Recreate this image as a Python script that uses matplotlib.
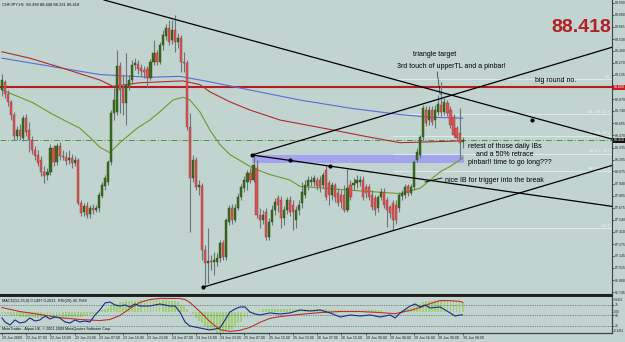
import numpy as np
import matplotlib
matplotlib.use("Agg")
from matplotlib import pyplot as plt
import matplotlib.transforms as mtransforms

# ---- CHFJPY H1 candles (19 Jun 2009 23:00 .. 30 Jun 2009 08:00) ----
opens = [
    88.97, 89.06, 88.93, 88.84, 88.70, 88.46, 88.53, 88.44, 88.66, 88.53,
    88.42, 88.31, 88.25, 88.20, 88.07, 88.04, 88.07, 88.33, 88.18, 88.35,
    88.24, 88.23, 88.20, 88.22, 88.17, 88.20, 87.73, 87.63, 87.69, 87.61,
    87.67, 87.65, 87.67, 87.80, 87.91, 87.96, 88.18, 88.72, 88.73, 89.23,
    88.99, 88.83, 89.01, 89.08, 89.25, 89.26, 89.21, 89.19, 89.20, 89.10,
    89.28, 89.38, 89.28, 89.47, 89.56, 89.65, 89.52, 89.63, 89.50, 89.54,
    89.28, 89.27, 88.56, 88.00, 88.20, 87.90, 87.91, 87.21, 87.07, 87.09,
    87.08, 87.08, 87.12, 87.29, 87.13, 87.52, 87.67, 87.54, 87.67, 87.79,
    87.89, 87.96, 88.06, 87.98, 88.11, 87.60, 87.54, 87.63, 87.35, 87.52,
    87.65, 87.78, 87.76, 87.56, 87.65, 87.76, 87.71, 87.54, 87.65, 87.73,
    87.82, 87.91, 87.96, 87.96, 87.98, 87.98, 87.93, 88.09, 87.95, 87.82,
    87.93, 87.84, 87.82, 87.82, 87.65, 87.93, 87.93, 87.95, 87.96, 87.98,
    87.90, 87.90, 87.82, 87.78, 87.67, 87.79, 87.85, 87.76, 87.68, 87.73,
    87.71, 87.67, 87.80, 87.82, 87.91, 87.84, 87.90, 88.20, 88.25, 88.45,
    88.75, 88.64, 88.75, 88.64, 88.73, 88.80, 88.73, 88.83, 88.75, 88.67,
    88.55, 88.50, 88.398]
highs = [
    89.15, 89.08, 88.97, 88.86, 88.73, 88.57, 88.60, 88.70, 88.71, 88.62,
    88.46, 88.35, 88.31, 88.24, 88.13, 88.11, 88.38, 88.37, 88.39, 88.40,
    88.31, 88.29, 88.31, 88.27, 88.24, 88.22, 87.76, 87.73, 87.74, 87.71,
    87.72, 87.71, 87.85, 87.96, 88.04, 88.20, 88.75, 88.99, 89.41, 89.28,
    89.14, 89.38, 89.14, 89.30, 89.32, 89.30, 89.26, 89.23, 89.23, 89.31,
    89.52, 89.41, 89.50, 89.63, 89.70, 89.74, 89.74, 89.80, 89.60, 89.58,
    89.39, 89.30, 88.72, 88.25, 88.23, 87.98, 87.95, 87.26, 87.45, 87.16,
    87.19, 87.18, 87.32, 87.32, 87.56, 87.71, 87.72, 87.72, 87.84, 87.94,
    88.02, 88.09, 88.11, 88.28, 88.20, 87.67, 87.65, 87.67, 87.56, 87.71,
    87.78, 87.82, 87.80, 87.69, 87.79, 87.80, 87.76, 87.69, 87.76, 87.96,
    87.98, 88.02, 88.02, 88.04, 88.01, 88.02, 88.07, 88.13, 87.98, 87.96,
    87.95, 87.89, 87.87, 87.93, 88.10, 87.98, 88.00, 88.04, 88.02, 88.02,
    87.94, 87.94, 87.87, 87.82, 87.82, 87.89, 87.89, 87.79, 87.71, 87.76,
    87.76, 87.85, 87.87, 87.94, 87.94, 87.94, 88.20, 88.33, 88.48, 88.80,
    88.79, 88.79, 88.79, 88.80, 88.92, 89.06, 88.88, 88.86, 88.79, 88.71,
    88.57, 88.77, 88.448]
lows = [
    88.90, 88.88, 88.79, 88.64, 88.42, 88.42, 88.42, 88.41, 88.46, 88.29,
    88.27, 88.20, 88.13, 88.02, 87.95, 87.98, 88.04, 88.13, 88.15, 88.20,
    88.20, 88.15, 88.16, 88.11, 88.13, 87.71, 87.58, 87.58, 87.56, 87.56,
    87.61, 87.63, 87.63, 87.78, 87.87, 87.93, 88.15, 88.64, 88.70, 88.72,
    88.70, 88.59, 88.97, 89.04, 89.19, 89.15, 89.12, 89.10, 89.00, 89.08,
    89.25, 89.25, 89.26, 89.41, 89.52, 89.47, 89.48, 89.39, 89.43, 89.17,
    89.17, 88.53, 87.41, 87.96, 87.87, 87.82, 87.10, 86.80, 86.85, 86.99,
    86.94, 87.03, 87.08, 87.10, 87.10, 87.49, 87.50, 87.52, 87.65, 87.76,
    87.85, 87.87, 87.95, 87.96, 87.56, 87.45, 87.50, 87.32, 87.32, 87.49,
    87.60, 87.63, 87.45, 87.49, 87.61, 87.58, 87.43, 87.45, 87.60, 87.67,
    87.78, 87.87, 87.91, 87.91, 87.87, 87.85, 87.89, 87.76, 87.71, 87.76,
    87.74, 87.69, 87.67, 87.63, 87.63, 87.76, 87.87, 87.89, 87.91, 87.76,
    87.78, 87.76, 87.65, 87.60, 87.63, 87.76, 87.67, 87.46, 87.56, 87.43,
    87.50, 87.63, 87.76, 87.78, 87.80, 87.82, 87.87, 88.18, 88.22, 88.42,
    88.57, 88.59, 88.59, 88.55, 88.70, 88.68, 88.70, 88.68, 88.55, 88.45,
    88.42, 88.21, 88.331]
closes = [
    89.08, 88.93, 88.84, 88.70, 88.46, 88.53, 88.46, 88.66, 88.51, 88.42,
    88.31, 88.24, 88.17, 88.07, 88.02, 88.07, 88.33, 88.18, 88.35, 88.24,
    88.23, 88.19, 88.22, 88.17, 88.20, 87.73, 87.62, 87.69, 87.60, 87.67,
    87.65, 87.67, 87.82, 87.93, 88.00, 88.18, 88.72, 88.86, 89.23, 88.97,
    88.83, 89.03, 89.08, 89.25, 89.27, 89.20, 89.18, 89.17, 89.10, 89.28,
    89.38, 89.28, 89.47, 89.58, 89.65, 89.50, 89.63, 89.50, 89.54, 89.28,
    89.27, 88.56, 88.00, 88.20, 87.90, 87.93, 87.21, 87.07, 87.09, 87.08,
    87.10, 87.12, 87.29, 87.13, 87.54, 87.67, 87.54, 87.67, 87.79, 87.90,
    87.98, 88.06, 87.98, 88.15, 87.60, 87.54, 87.60, 87.35, 87.52, 87.65,
    87.74, 87.71, 87.56, 87.65, 87.76, 87.63, 87.63, 87.65, 87.71, 87.85,
    87.93, 87.98, 87.98, 88.00, 87.91, 87.90, 88.04, 87.79, 87.82, 87.93,
    87.79, 87.73, 87.74, 87.65, 87.89, 87.79, 87.95, 87.98, 87.98, 87.79,
    87.84, 87.79, 87.68, 87.65, 87.79, 87.85, 87.71, 87.65, 87.62, 87.54,
    87.54, 87.82, 87.84, 87.90, 87.84, 87.90, 88.18, 88.29, 88.45, 88.77,
    88.61, 88.75, 88.62, 88.75, 88.82, 88.73, 88.84, 88.72, 88.59, 88.48,
    88.44, 88.39, 88.418]

# moving averages (candle index, price)
blue_idx = [0, 32.3, 48.8, 58.7, 68.6, 81.8, 98.3, 114.9, 131.4, 141.3, 152]
blue_val = [89.32, 89.14, 89.11, 89.12, 89.06, 88.97, 88.86, 88.77, 88.70, 88.67, 88.66]
red_idx = [0, 9.2, 19.1, 32.3, 36.6, 45.5, 59.7, 65.3, 68.6, 75.2, 81.8, 91.7,
           109.2, 121.5, 131.4, 141.3, 152]
red_val = [89.39, 89.32, 89.22, 89.08, 89.01, 89.05, 89.07, 89.03, 88.95, 88.84,
           88.75, 88.64, 88.53, 88.45, 88.39, 88.40, 88.41]
green_idx = [0, 5.9, 10.2, 15.8, 21.5, 25.7, 29.0, 32.3, 35.6, 38.9, 44.6, 48.8,
             52.1, 56.4, 59.7, 62.0, 65.3, 68.6, 71.9, 75.2, 82.8, 88.4, 95.0,
             98.3, 113.9, 131.4, 138.0, 144.6, 147.9, 152]
green_val = [88.97, 88.89, 88.83, 88.72, 88.62, 88.55, 88.45, 88.34, 88.28, 88.39,
             88.55, 88.64, 88.73, 88.86, 88.89, 88.86, 88.73, 88.53, 88.37, 88.26,
             88.11, 88.04, 87.98, 87.91, 87.87, 87.83, 87.89, 88.07, 88.13, 88.22]

# drawn objects (candle index, price)
trend_lines = [
    ((33.7, 89.96), (201.3, 88.43)),
    ((66.3, 86.80), (201.3, 88.14)),
    ((82.5, 88.255), (201.3, 89.44)),
    ((82.5, 88.255), (201.3, 87.69)),
]
trend_dots_idx = [66.3, 82.5, 95.0, 108.2, 174.9]
trend_dots_val = [86.80, 88.255, 88.20, 88.134, 88.64]
box_idx = [82.5, 152.3]
box_val = [88.167, 88.255]
fib_high = 89.091
fib_low = 87.452
fib_start = 129
fib_levels = [0.0, 23.6, 38.2, 50.0, 61.8, 100.0]
round_no = 89.00
last_price = 88.418

# indicator window
macd_hist = [
    -0.06, -0.08, -0.08, -0.11, -0.11, -0.11, -0.14, -0.14, -0.14, -0.14,
    -0.14, -0.17, -0.17, -0.17, -0.17, -0.17, -0.17, -0.17, -0.17, -0.17,
    -0.14, -0.14, -0.14, -0.14, -0.14, -0.14, -0.14, -0.11, -0.11, -0.08,
    -0.06, -0.03, 0.00, 0.03, 0.08, 0.11, 0.17, 0.19, 0.22, 0.25,
    0.25, 0.28, 0.28, 0.30, 0.30, 0.30, 0.33, 0.33, 0.33, 0.33,
    0.33, 0.33, 0.33, 0.33, 0.33, 0.30, 0.30, 0.28, 0.25, 0.19,
    0.14, 0.08, 0.00, -0.08, -0.17, -0.25, -0.33, -0.41, -0.47, -0.52,
    -0.55, -0.58, -0.58, -0.58, -0.55, -0.52, -0.47, -0.41, -0.33, -0.28,
    -0.19, -0.14, -0.08, -0.03, 0.00, 0.03, 0.06, 0.06, 0.08, 0.08,
    0.08, 0.08, 0.08, 0.08, 0.08, 0.08, 0.08, 0.08, 0.08, 0.08,
    0.08, 0.08, 0.08, 0.06, 0.06, 0.06, 0.06, 0.06, 0.03, 0.03,
    0.03, 0.03, 0.03, 0.03, 0.03, 0.03, 0.03, 0.03, 0.03, 0.03,
    0.03, 0.03, 0.03, 0.03, 0.03, 0.03, 0.00, 0.00, 0.00, 0.00,
    0.00, 0.00, 0.03, 0.06, 0.08, 0.11, 0.14, 0.19, 0.22, 0.25,
    0.28, 0.30, 0.30, 0.33, 0.33, 0.33, 0.33, 0.33, 0.30, 0.30,
    0.28, 0.28, 0.25]
sig_idx = [0, 5.9, 12.5, 19.1, 25.7, 32.3, 35.6, 38.9, 42.2, 45.5,
           48.8, 52.1, 55.4, 58.7, 60.4, 62.0, 65.3, 68.6, 71.9, 75.2,
           78.5, 81.8, 85.1, 88.4, 91.7, 98.3, 105.0, 111.6, 118.2, 124.8,
           129.7, 131.4, 134.7, 138.0, 141.3, 144.6, 147.9, 151.2, 152]
sig_val = [0.11, 0.00, -0.08, -0.17, -0.22, -0.25, -0.22, -0.11, 0.08, 0.25,
           0.33, 0.36, 0.36, 0.36, 0.33, 0.25, 0.00, -0.28, -0.50, -0.55,
           -0.52, -0.44, -0.30, -0.19, -0.14, -0.08, -0.03, 0.00, 0.00, -0.03,
           -0.06, -0.03, 0.03, 0.11, 0.22, 0.30, 0.30, 0.28, 0.25]
rsi_idx = [0, 1.0, 2.6, 4.3, 5.9, 7.6, 9.2, 10.9, 12.5, 14.2,
           15.8, 17.5, 19.1, 20.8, 22.4, 24.1, 25.7, 27.4, 29.0, 30.7,
           32.3, 34.0, 35.6, 37.3, 38.9, 40.6, 42.2, 43.9, 45.5, 48.8,
           52.1, 55.4, 57.1, 58.7, 60.4, 62.0, 65.3, 68.6, 70.3, 71.9,
           73.6, 75.2, 76.9, 78.5, 80.2, 81.8, 83.5, 85.1, 88.4, 91.7,
           95.0, 98.3, 101.7, 105.0, 108.3, 111.6, 114.9, 118.2, 121.5, 124.8,
           128.1, 129.7, 131.4, 134.7, 136.3, 138.0, 139.6, 141.3, 144.6, 147.9,
           149.5, 151.2, 152]
rsi_val = [44.0, 34.5, 27.4, 39.3, 32.1, 34.5, 44.0, 36.9, 39.3, 48.8,
           41.7, 46.4, 44.0, 34.5, 32.1, 39.3, 34.5, 36.9, 34.5, 51.2,
           63.1, 79.8, 82.1, 75.0, 72.6, 75.0, 70.2, 77.4, 72.6, 72.6,
           77.4, 72.6, 72.6, 58.3, 34.5, 25.0, 20.2, 15.5, 17.9, 20.2,
           39.3, 58.3, 65.5, 70.2, 70.2, 58.3, 53.6, 51.2, 56.0, 53.6,
           56.0, 63.1, 60.7, 63.1, 56.0, 46.4, 51.2, 48.8, 51.2, 46.4,
           51.2, 44.0, 56.0, 72.6, 77.4, 70.2, 75.0, 67.9, 70.2, 56.0,
           48.8, 51.2, 51.2]

price_ticks = [89.930, 89.800, 89.665, 89.530, 89.400, 89.270, 89.135, 88.870,
               88.740, 88.605, 88.470, 88.335, 88.205, 88.075, 87.940, 87.805,
               87.675, 87.540, 87.410, 87.275, 87.145, 87.015, 86.880, 86.745]
time_labels = ["19 Jun 2009", "22 Jun 07:00", "22 Jun 15:00", "22 Jun 23:00",
               "23 Jun 07:00", "23 Jun 15:00", "23 Jun 23:00", "24 Jun 07:00",
               "24 Jun 15:00", "24 Jun 23:00", "25 Jun 07:00", "25 Jun 15:00",
               "25 Jun 23:00", "26 Jun 07:00", "26 Jun 15:00", "29 Jun 00:00",
               "29 Jun 08:00", "29 Jun 16:00", "30 Jun 00:00", "30 Jun 08:00"]

bg = '#c1d4d0'
plt.rcParams['font.family'] = ['Liberation Sans', 'DejaVu Sans']

fig = plt.figure(figsize=(6.25, 3.42), dpi=100, facecolor=bg)
ax = fig.add_axes([0, 47 / 342, 612 / 625, 295 / 342], facecolor=bg)
ind = fig.add_axes([0, 9 / 342, 612 / 625, 37 / 342], facecolor=bg)

xmin, xmax = -0.66, 201.3
ax.set_xlim(xmin, xmax)
ax.set_ylim(86.715, 89.96)

o = np.array(opens)
h = np.array(highs)
l = np.array(lows)
c = np.array(closes)
idx = np.arange(len(c))
up = c >= o

# fibo levels
rng = fib_high - fib_low
blend = mtransforms.blended_transform_factory(ax.transAxes, ax.transData)
for lev in fib_levels:
    p = fib_high - rng * lev / 100.0
    ax.plot([fib_start, xmax], [p, p], color='#e4ecec', lw=0.6, zorder=1)
    if lev in (0.0, 100.0):
        txt = "%.1f" % lev
    else:
        txt = "%.3f  %.1f" % (p, lev)
    ax.text(0.997, p + 0.005, txt, transform=blend, ha='right', va='bottom',
            fontsize=2.8, color='#eef3f3', zorder=2)

# lavender zone
ax.fill_between(box_idx, box_val[0], box_val[1], color='#a3a3ee', lw=0, zorder=1.5)

ax.axhline(round_no, color='#b81c1c', lw=1.5, zorder=2)
ax.axhline(last_price, color='#4f8f4f', lw=0.7, ls=(0, (6, 2, 1, 2)), zorder=2)

ax.plot(blue_idx, blue_val, color='#5a6bd6', lw=0.8, zorder=2.5)
ax.plot(red_idx, red_val, color='#b02c2c', lw=0.8, zorder=2.5)
ax.plot(green_idx, green_val, color='#6f9a2a', lw=0.8, zorder=2.5)

# candles
ax.vlines(idx, l, h, color='#6c7676', lw=0.8, zorder=3)
bot = np.minimum(o, c)
hgt = np.maximum(np.abs(c - o), 0.008)
ax.bar(idx[up], hgt[up], bottom=bot[up], width=0.7, color='#3c6a1e',
       edgecolor='#2a4c12', lw=0.3, zorder=4)
ax.bar(idx[~up], hgt[~up], bottom=bot[~up], width=0.7, color='#d45656',
       edgecolor='#a83232', lw=0.3, zorder=4)

for (x0, y0), (x1, y1) in trend_lines:
    ax.plot([x0, x1], [y0, y1], color='black', lw=0.9, zorder=5)
ax.plot(trend_dots_idx, trend_dots_val, 'o', color='black', ms=2, zorder=6)

# notes
fs = 5.0
ax.text(142.9, 89.366, "triangle target", fontsize=fs, ha='center', va='center', zorder=7)
ax.text(148.3, 89.234, "3rd touch of upperTL and a pinbar!", fontsize=fs, ha='center',
        va='center', zorder=7)
ax.plot([143.6, 144.6], [89.17, 88.92], color='black', lw=0.4, zorder=7)
ax.text(175.9, 89.069, "big round no.", fontsize=fs, ha='left', va='center', zorder=7)
ax.text(153.8, 88.354, "retest of those daily IBs", fontsize=fs, ha='left', va='center', zorder=7)
ax.text(156.4, 88.255, "and a 50% retrace", fontsize=fs, ha='left', va='center', zorder=7)
ax.text(153.8, 88.167, "pinbar!! time to go long???", fontsize=fs, ha='left', va='center', zorder=7)
ax.text(146.2, 87.98, "nice IB for trigger into the break", fontsize=fs, ha='left',
        va='center', zorder=7)
ax.plot([139.6, 145.2], [87.958, 88.002], color='black', lw=0.6, zorder=7)

fig.text(611 / 625, 1 - 27 / 342, "88.418", color='#b21f24', fontsize=14,
         fontweight='bold', ha='right', va='center')
fig.text(0.004, 1 - 5 / 342, "CHFJPY,H1  88.398 88.448 88.331 88.418", fontsize=3.0,
         color='#111111', va='center')

# price scale
ax.yaxis.tick_right()
ax.set_yticks(price_ticks)
ax.set_yticklabels(["%.3f" % t for t in price_ticks])
ax.tick_params(axis='y', labelsize=2.5, length=1.2, width=0.5, pad=0.6, colors='#222222')
ax.set_xticks([])
ax.text(1.003, round_no, "89.000", transform=blend, fontsize=2.5, color='white',
        va='center', ha='left', bbox=dict(boxstyle='square,pad=0.15', fc='#c81e1e', ec='none'),
        clip_on=False, zorder=8)
ax.text(1.003, last_price, "88.418", transform=blend, fontsize=2.5, color='white',
        va='center', ha='left', bbox=dict(boxstyle='square,pad=0.15', fc='#111111', ec='none'),
        clip_on=False, zorder=8)
for side in ('left', 'top'):
    ax.spines[side].set_visible(False)
ax.spines['right'].set_color('#3a4444')
ax.spines['right'].set_linewidth(0.8)
ax.spines['bottom'].set_color('#202020')
ax.spines['bottom'].set_linewidth(1.5)

# ---- indicator window: MACD histogram + signal, RSI ----
ind.set_xlim(xmin, xmax)
ind.set_ylim(-0.593, 0.428)
ind.bar(idx, macd_hist, width=0.6, color='#a3cf74', lw=0, zorder=2)
ind.plot(sig_idx, sig_val, color='#c23030', lw=0.8, zorder=3)
ind2 = ind.twinx()
ind2.set_xlim(xmin, xmax)
ind2.set_ylim(8.3, 96.4)
for lvl in (25, 50, 75):
    ind2.axhline(lvl, color='#3c4646', lw=0.5, ls=(0, (1, 1.5)), zorder=1)
ind2.plot(rsi_idx, rsi_val, color='#1c2a8a', lw=0.8, zorder=4)

ind.yaxis.tick_right()
ind.set_yticks([0.3452, 0.0, -0.53])
ind.set_yticklabels(["0.3452", "0.00", "-0.3452"])
ind.tick_params(axis='y', labelsize=2.2, length=1.0, width=0.5, pad=0.5, colors='#222222')
ind2.set_yticks([25, 50, 75])
ind2.set_yticklabels(["25", "50", "75"])
ind2.tick_params(axis='y', labelsize=2.4, length=1.2, width=0.5, pad=0.6, colors='#222222')

ind.set_xticks(np.arange(0, len(c), 8))
ind.set_xticklabels(time_labels)
for lab in ind.get_xticklabels():
    lab.set_ha('left')
ind.tick_params(axis='x', labelsize=2.6, length=1.5, width=0.5, pad=0.8, colors='#222222')

for a in (ind, ind2):
    a.spines['left'].set_visible(False)
    a.spines['top'].set_color('#202020')
    a.spines['top'].set_linewidth(1.2)
    a.spines['right'].set_color('#3a4444')
    a.spines['right'].set_linewidth(0.8)
    a.spines['bottom'].set_color('#3a4444')
    a.spines['bottom'].set_linewidth(0.8)

ind.text(0.004, 0.86, "MACD(12,26,9) 0.1497 0.2631  RSI(29) 45.7588", transform=ind.transAxes,
         fontsize=2.8, color='#111111', va='center', zorder=6)
ind.text(0.004, 0.1, "MetaTrader - Alpari UK, \u00a9 2001-2009 MetaQuotes Software Corp.",
         transform=ind.transAxes, fontsize=2.7, color='#111111', va='center', zorder=6)

fig.savefig("out.png", dpi=100, facecolor=bg)
